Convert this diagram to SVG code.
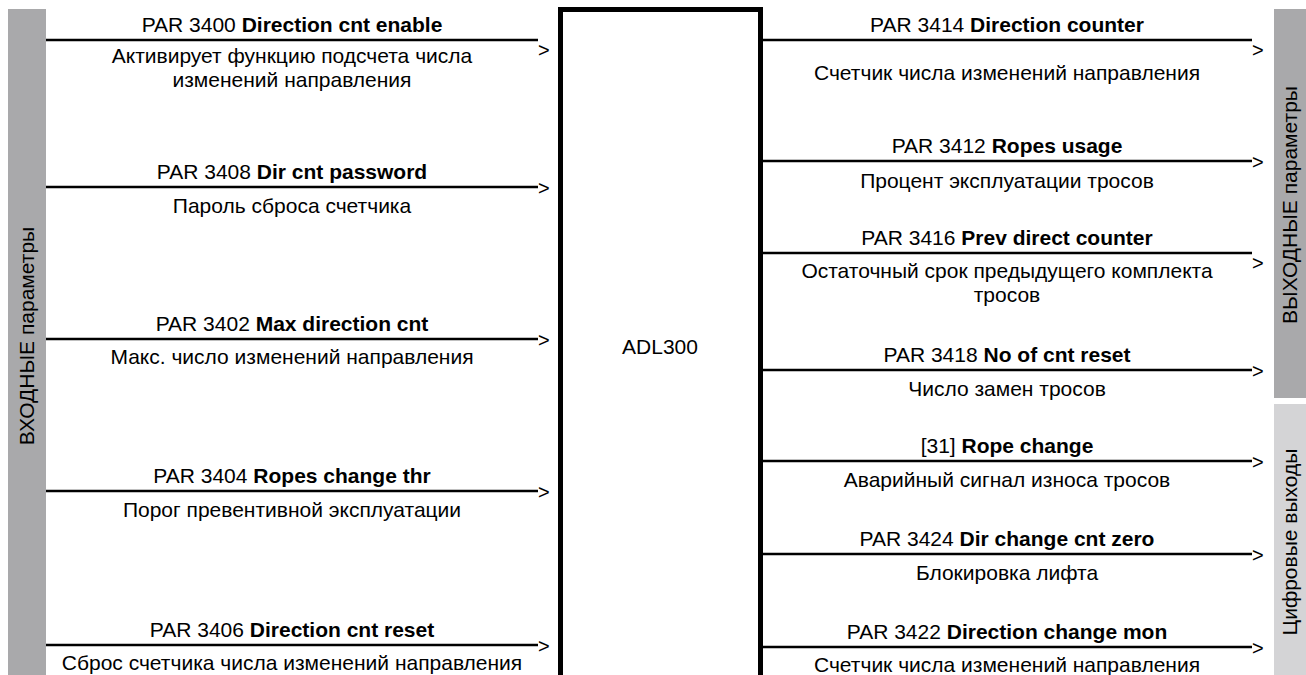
<svg xmlns="http://www.w3.org/2000/svg" width="1306" height="675" viewBox="0 0 1306 675">
<style>
text{font-family:"Liberation Sans",Arial,sans-serif;font-size:21px;fill:#000}
.c{text-anchor:middle}
.b{font-weight:bold}
.ln{stroke:#000;stroke-width:2.5;fill:none}
.ar{font-size:20px}
</style>
<rect width="1306" height="675" fill="#fff"/>
<g id="bar-in">
<rect x="8" y="9" width="38" height="670" fill="#a9a9ab"/>
<text class="c" transform="translate(34 336) rotate(-90)">ВХОДНЫЕ параметры</text>
</g>
<g id="bar-out">
<rect x="1274" y="9" width="32" height="389" fill="#a9a9ab"/>
<text class="c" transform="translate(1297 205) rotate(-90)">ВЫХОДНЫЕ параметры</text>
</g>
<g id="bar-dig">
<rect x="1274" y="404" width="32" height="275" fill="#d4d4d6"/>
<text class="c" transform="translate(1297 542) rotate(-90)">Цифровые выходы</text>
</g>
<g id="adl300">
<rect x="560.5" y="9.5" width="200" height="700" fill="#fff" stroke="#000" stroke-width="5"/>
<text class="c" x="660" y="354">ADL300</text>
</g>
<g id="connectors">
<path class="ln" d="M46 40H538M46 187H538M46 339H538M46 491H538M46 645H538"/>
<path class="ln" d="M763 40H1252M763 161H1252M763 253H1252M763 370H1252M763 461H1252M763 554H1252M763 647H1252"/>
<text class="ar" x="538" y="57">&gt;</text>
<text class="ar" x="538" y="195">&gt;</text>
<text class="ar" x="538" y="347">&gt;</text>
<text class="ar" x="538" y="499">&gt;</text>
<text class="ar" x="538" y="653">&gt;</text>
<text class="ar" x="1252" y="57">&gt;</text>
<text class="ar" x="1252" y="169">&gt;</text>
<text class="ar" x="1252" y="270">&gt;</text>
<text class="ar" x="1252" y="378">&gt;</text>
<text class="ar" x="1252" y="469">&gt;</text>
<text class="ar" x="1252" y="562">&gt;</text>
<text class="ar" x="1252" y="655">&gt;</text>
</g>
<g id="in-3400"><text class="c" x="292" y="32">PAR 3400 <tspan class="b">Direction cnt enable</tspan></text>
<text class="c" x="292" y="63">Активирует функцию подсчета числа</text>
<text class="c" x="292" y="87">изменений направления</text></g>
<g id="in-3408"><text class="c" x="292" y="179">PAR 3408 <tspan class="b">Dir cnt password</tspan></text>
<text class="c" x="292" y="213">Пароль сброса счетчика</text></g>
<g id="in-3402"><text class="c" x="292" y="331">PAR 3402 <tspan class="b">Max direction cnt</tspan></text>
<text class="c" x="292" y="364">Макс. число изменений направления</text></g>
<g id="in-3404"><text class="c" x="292" y="483">PAR 3404 <tspan class="b">Ropes change thr</tspan></text>
<text class="c" x="292" y="517">Порог превентивной эксплуатации</text></g>
<g id="in-3406"><text class="c" x="292" y="637">PAR 3406 <tspan class="b">Direction cnt reset</tspan></text>
<text class="c" x="292" y="670">Сброс счетчика числа изменений направления</text></g>
<g id="out-3414"><text class="c" x="1007" y="32">PAR 3414 <tspan class="b">Direction counter</tspan></text>
<text class="c" x="1007" y="80">Счетчик числа изменений направления</text></g>
<g id="out-3412"><text class="c" x="1007" y="153">PAR 3412 <tspan class="b">Ropes usage</tspan></text>
<text class="c" x="1007" y="188">Процент эксплуатации тросов</text></g>
<g id="out-3416"><text class="c" x="1007" y="245">PAR 3416 <tspan class="b">Prev direct counter</tspan></text>
<text class="c" x="1007" y="278">Остаточный срок предыдущего комплекта</text>
<text class="c" x="1007" y="302">тросов</text></g>
<g id="out-3418"><text class="c" x="1007" y="362">PAR 3418 <tspan class="b">No of cnt reset</tspan></text>
<text class="c" x="1007" y="396">Число замен тросов</text></g>
<g id="out-31"><text class="c" x="1007" y="453">[31] <tspan class="b">Rope change</tspan></text>
<text class="c" x="1007" y="487">Аварийный сигнал износа тросов</text></g>
<g id="out-3424"><text class="c" x="1007" y="546">PAR 3424 <tspan class="b">Dir change cnt zero</tspan></text>
<text class="c" x="1007" y="580">Блокировка лифта</text></g>
<g id="out-3422"><text class="c" x="1007" y="639">PAR 3422 <tspan class="b">Direction change mon</tspan></text>
<text class="c" x="1007" y="672">Счетчик числа изменений направления</text></g>
</svg>
